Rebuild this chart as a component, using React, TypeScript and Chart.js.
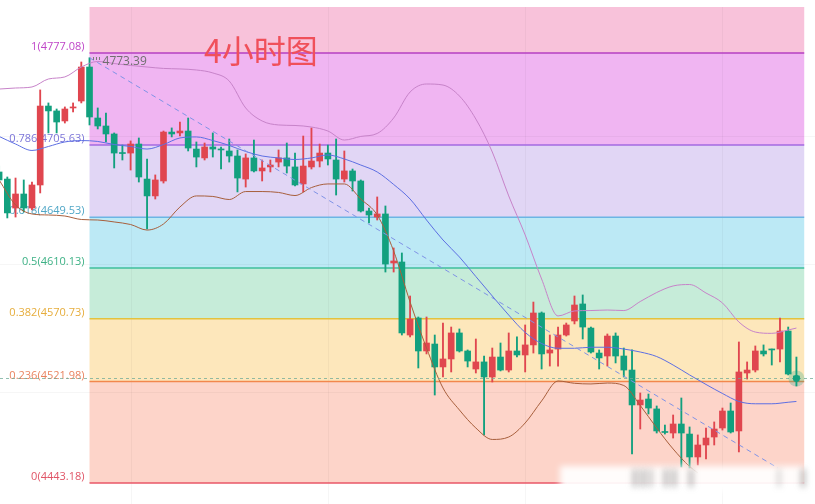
import { useEffect, useRef } from 'react';
import { Chart, registerables } from 'chart.js';

Chart.register(...registerables);

// ---- candle data (4h) ----
const opens = [4684.7, 4679.2, 4656.7, 4667.6, 4656.7, 4674.6, 4735.9, 4732.1, 4724.3, 4734.4, 4739.8, 4766.2, 4726.6, 4720.4, 4714.2, 4699.8, 4699.4, 4706.4, 4679.2, 4666.1, 4677.7, 4715.7, 4715.0, 4716.5, 4702.5, 4695.6, 4704.1, 4702.5, 4701.0, 4697.1, 4679.2, 4695.6, 4685.5, 4688.6, 4692.4, 4695.6, 4688.6, 4675.4, 4688.6, 4693.2, 4699.4, 4694.0, 4679.2, 4685.5, 4677.7, 4654.4, 4649.7, 4652.1, 4614.0, 4614.8, 4558.1, 4571.3, 4545.7, 4551.1, 4533.3, 4539.5, 4559.7, 4545.7, 4531.7, 4537.2, 4525.5, 4541.0, 4530.9, 4545.7, 4542.6, 4550.4, 4575.2, 4544.1, 4547.2, 4558.1, 4569.0, 4582.2, 4563.5, 4544.1, 4541.8, 4557.3, 4541.8, 4530.9, 4503.8, 4508.4, 4500.7, 4483.2, 4482.0, 4489.0, 4481.2, 4463.4, 4472.7, 4478.9, 4485.9, 4499.1, 4483.6, 4528.6, 4530.9, 4545.7, 4547.2, 4547.2, 4561.2, 4526.3];
const highs = [4689.3, 4680.8, 4680.0, 4678.5, 4676.9, 4748.4, 4738.3, 4733.6, 4735.2, 4738.3, 4770.1, 4773.39, 4734.4, 4730.5, 4715.0, 4705.6, 4708.8, 4711.1, 4694.8, 4682.4, 4716.5, 4718.9, 4723.5, 4726.6, 4708.0, 4707.2, 4715.0, 4704.1, 4710.3, 4701.8, 4698.7, 4709.5, 4694.0, 4694.0, 4701.8, 4707.2, 4699.4, 4712.6, 4718.9, 4706.4, 4705.6, 4710.3, 4701.0, 4687.0, 4678.5, 4656.7, 4665.3, 4658.3, 4625.7, 4621.8, 4588.4, 4572.1, 4572.1, 4558.1, 4567.4, 4564.3, 4562.8, 4546.5, 4555.0, 4541.8, 4548.0, 4551.9, 4559.7, 4556.6, 4565.9, 4583.7, 4576.0, 4558.1, 4564.3, 4567.4, 4588.4, 4589.2, 4564.3, 4546.5, 4558.9, 4559.7, 4548.0, 4546.5, 4513.1, 4512.3, 4503.0, 4488.2, 4496.0, 4509.2, 4486.7, 4480.5, 4485.9, 4490.6, 4501.4, 4505.3, 4552.7, 4537.2, 4549.6, 4550.4, 4547.2, 4571.3, 4564.3, 4541.0];
const lows = [4673.8, 4649.0, 4649.7, 4653.6, 4655.2, 4668.4, 4715.0, 4715.0, 4722.7, 4731.3, 4738.3, 4721.2, 4718.1, 4708.0, 4687.8, 4694.0, 4686.2, 4676.9, 4640.4, 4663.7, 4676.1, 4711.9, 4712.6, 4701.0, 4688.6, 4694.0, 4696.3, 4687.0, 4692.4, 4669.2, 4673.0, 4684.7, 4677.7, 4684.7, 4688.6, 4683.9, 4673.8, 4669.2, 4687.0, 4688.6, 4690.1, 4666.8, 4676.9, 4669.9, 4653.6, 4645.1, 4647.4, 4607.0, 4607.0, 4558.1, 4556.6, 4532.5, 4543.4, 4511.5, 4525.5, 4529.4, 4544.9, 4533.3, 4528.6, 4480.5, 4521.6, 4530.2, 4529.4, 4541.0, 4529.4, 4544.1, 4531.7, 4534.0, 4534.0, 4557.3, 4566.7, 4555.0, 4544.1, 4531.7, 4534.0, 4536.4, 4525.5, 4465.7, 4485.1, 4496.8, 4482.0, 4481.2, 4478.1, 4455.6, 4454.8, 4457.2, 4461.8, 4472.7, 4484.3, 4482.0, 4467.3, 4523.9, 4529.4, 4541.8, 4534.8, 4537.2, 4527.1, 4518.5];
const closes = [4678.5, 4652.9, 4667.6, 4656.7, 4674.6, 4735.9, 4732.1, 4723.5, 4733.6, 4735.2, 4766.2, 4727.4, 4720.4, 4714.2, 4699.4, 4699.0, 4706.4, 4680.8, 4666.1, 4678.5, 4715.7, 4714.2, 4716.5, 4703.3, 4696.3, 4704.1, 4702.5, 4701.8, 4697.1, 4680.0, 4695.6, 4685.5, 4687.8, 4690.1, 4695.6, 4689.3, 4674.6, 4689.3, 4693.2, 4699.4, 4694.8, 4679.2, 4685.5, 4677.7, 4654.4, 4651.3, 4652.1, 4613.2, 4615.6, 4559.7, 4570.5, 4545.7, 4551.9, 4533.3, 4539.5, 4559.7, 4545.7, 4537.9, 4537.2, 4525.5, 4541.0, 4530.9, 4545.7, 4542.6, 4550.4, 4575.2, 4543.4, 4546.5, 4558.1, 4565.9, 4581.4, 4564.3, 4544.9, 4540.3, 4557.3, 4541.8, 4530.9, 4503.8, 4507.6, 4501.4, 4483.6, 4482.4, 4489.0, 4482.0, 4463.4, 4472.7, 4478.1, 4485.1, 4499.1, 4482.8, 4529.4, 4530.9, 4545.7, 4543.4, 4546.5, 4561.2, 4527.8, 4524.7];

// ---- Bollinger bands ----
const bbIdx = [0, 2, 4, 6, 8, 10, 12, 14, 16, 18, 20, 22, 24, 26, 28, 30, 32, 34, 36, 38, 40, 42, 44, 46, 48, 50, 52, 54, 56, 58, 60, 62, 64, 66, 68, 70, 72, 74, 76, 78, 80, 82, 84, 86, 88, 90, 92, 94, 96, 97];
const bbUpper = [4749.1, 4749.9, 4750.7, 4756.9, 4758.5, 4766.2, 4770.5, 4768.9, 4767.4, 4766.2, 4765.1, 4764.7, 4763.9, 4761.6, 4755.3, 4734.4, 4724.3, 4721.2, 4720.8, 4719.6, 4716.5, 4709.5, 4712.3, 4714.6, 4726.6, 4746.8, 4753.0, 4752.2, 4743.7, 4725.8, 4700.2, 4666.1, 4635.8, 4601.6, 4572.9, 4576.8, 4577.1, 4577.5, 4577.1, 4584.1, 4591.1, 4596.2, 4597.3, 4590.7, 4583.0, 4568.2, 4560.4, 4559.4, 4562.0, 4563.5];
const bbMiddle = [4712.3, 4706.4, 4701.4, 4704.5, 4708.0, 4709.1, 4708.4, 4706.0, 4704.5, 4702.5, 4706.0, 4711.1, 4711.9, 4709.1, 4705.3, 4700.6, 4697.1, 4695.6, 4694.4, 4695.6, 4697.9, 4694.8, 4690.1, 4684.7, 4675.0, 4663.7, 4647.4, 4631.9, 4618.7, 4603.5, 4588.4, 4573.6, 4560.1, 4551.5, 4547.8, 4547.8, 4548.6, 4548.6, 4547.2, 4544.9, 4541.4, 4534.8, 4527.1, 4519.7, 4512.7, 4506.5, 4504.7, 4504.7, 4505.9, 4506.5];
const bbLowerIdx = [0, 2, 4, 6, 8, 10, 12, 14, 16, 18, 20, 22, 24, 26, 28, 30, 32, 34, 36, 38, 40, 42, 44, 46, 48, 50, 52, 54, 56, 58, 60, 62, 64, 66, 68, 70, 72, 74, 76, 78, 80, 82, 84, 85];
const bbLower = [4678.5, 4659.1, 4652.1, 4651.3, 4650.5, 4647.8, 4647.4, 4645.9, 4643.9, 4639.6, 4644.3, 4657.5, 4666.1, 4665.7, 4663.3, 4669.5, 4669.5, 4668.8, 4666.4, 4672.6, 4675.4, 4675.4, 4663.7, 4651.3, 4623.3, 4583.7, 4548.0, 4517.0, 4499.9, 4485.9, 4477.0, 4478.9, 4489.8, 4506.9, 4522.4, 4520.6, 4520.1, 4520.8, 4518.9, 4503.4, 4485.9, 4469.6, 4456.0, 4451.0];

// ---- Fibonacci retracement ----
const fibRatios = [1, 0.786, 0.618, 0.5, 0.382, 0.236, 0];
const fibPrices = [4777.08, 4705.63, 4649.53, 4610.13, 4570.73, 4521.98, 4443.18];
const fibStartIdx = 11;
const fibEndIdx = 97.95;

// ---- trend line (dashed) ----
const trendIdx = [11, 94.75];
const trendPrices = [4773.39, 4454.8];

// ---- misc ----
const highLabel = '4773.39';
const title = '4小时图';
const gridIdx = [16, 40, 64, 88];
const gridPrices = [4712.6, 4613.2, 4513.8];

const UP = '#e0464f';
const DOWN = '#12a07e';
const bandColors = ['#f8c2da', '#f0b5f2', '#e1d6f5', '#bce9f5', '#c6ecd9', '#fde7bb', '#fdd4c9'];
const lineColors = ['#b63fc2', '#a36ae0', '#6cb5e4', '#3fbf9b', '#e3c23e', '#f2874d', '#e85767'];
const labelColors = ['#bf45c8', '#7b74d8', '#4fa6c6', '#3db185', '#e6ad3c', '#e9835f', '#e05466'];

const candleColors = opens.map((o, i) => (closes[i] >= o ? UP : DOWN));

const fibPlugin = {
  id: 'fibPlugin',
  beforeDatasetsDraw(chart: any) {
    const { ctx, chartArea, scales } = chart;
    const xs = scales.x;
    const ys = scales.y;
    const xL = xs.getPixelForValue(fibStartIdx);
    const xR = xs.getPixelForValue(fibEndIdx);
    ctx.save();
    // bands
    let prevY = chartArea.top;
    fibPrices.forEach((p, k) => {
      const yy = ys.getPixelForValue(p);
      ctx.fillStyle = bandColors[k];
      ctx.fillRect(xL, prevY, xR - xL, yy - prevY);
      prevY = yy;
    });
    // grid
    ctx.strokeStyle = 'rgba(0,0,0,0.035)';
    ctx.lineWidth = 1;
    gridIdx.forEach((g) => {
      const gx = Math.round(xs.getPixelForValue(g)) + 0.5;
      ctx.beginPath();
      ctx.moveTo(gx, chartArea.top);
      ctx.lineTo(gx, chartArea.bottom);
      ctx.stroke();
    });
    gridPrices.forEach((g) => {
      const gy = Math.round(ys.getPixelForValue(g)) + 0.5;
      ctx.beginPath();
      ctx.moveTo(chartArea.left, gy);
      ctx.lineTo(chartArea.right, gy);
      ctx.stroke();
    });
    // level lines
    fibPrices.forEach((p, k) => {
      const yy = ys.getPixelForValue(p);
      ctx.strokeStyle = lineColors[k];
      ctx.lineWidth = 1.5;
      ctx.beginPath();
      ctx.moveTo(xL, yy);
      ctx.lineTo(xR, yy);
      ctx.stroke();
    });
    // labels
    ctx.font = '11px "Open Sans", sans-serif';
    ctx.textAlign = 'right';
    ctx.textBaseline = 'bottom';
    fibPrices.forEach((p, k) => {
      const yy = ys.getPixelForValue(p);
      ctx.fillStyle = labelColors[k];
      ctx.fillText(`${fibRatios[k]}(${p.toFixed(2)})`, xL - 5, yy - 0.5);
    });
    // title
    ctx.font = '32px "Noto Sans CJK SC", sans-serif';
    ctx.textAlign = 'left';
    ctx.textBaseline = 'middle';
    ctx.fillStyle = '#f0505a';
    ctx.fillText(title, 204, 51);
    ctx.restore();
  },
  afterDatasetsDraw(chart: any) {
    const { ctx, chartArea, scales } = chart;
    const xs = scales.x;
    const ys = scales.y;
    ctx.save();
    // high label
    const hx = xs.getPixelForValue(trendIdx[0]);
    const hy = ys.getPixelForValue(trendPrices[0]);
    ctx.fillStyle = '#7a7a7a';
    [3, 6, 9].forEach((d) => ctx.fillRect(Math.round(hx) + d, Math.round(hy) - 1, 1, 3));
    ctx.font = '12px "Open Sans", sans-serif';
    ctx.textAlign = 'left';
    ctx.textBaseline = 'middle';
    ctx.fillStyle = '#6f6f6f';
    ctx.fillText(highLabel, hx + 13, hy + 3.5);

    // current price line
    const last = closes.length - 1;
    const py = Math.round(ys.getPixelForValue(closes[last])) + 0.5;
    ctx.strokeStyle = 'rgba(110,170,150,0.75)';
    ctx.setLineDash([3, 3]);
    ctx.lineWidth = 1;
    ctx.beginPath();
    ctx.moveTo(chartArea.left, py);
    ctx.lineTo(chartArea.right, py);
    ctx.stroke();
    ctx.setLineDash([]);

    // watermark blur (decorative)
    ctx.filter = 'blur(3px)';
    ctx.fillStyle = 'rgba(255,255,255,0.93)';
    ctx.fillRect(560, 466, 246, 26);
    ctx.fillStyle = 'rgba(100,100,100,0.5)';
    [[633, 4], [641, 4], [649, 3], [664, 4], [672, 4], [689, 4], [778, 2], [801, 4]].forEach(([bx, bw]) => {
      ctx.fillRect(bx, 469, bw, 18);
    });
    ctx.filter = 'none';

    // current price dot
    const px = xs.getPixelForValue(last);
    ctx.fillStyle = 'rgba(18,160,126,0.25)';
    ctx.beginPath();
    ctx.arc(px, py, 8, 0, Math.PI * 2);
    ctx.fill();
    ctx.fillStyle = DOWN;
    ctx.beginPath();
    ctx.arc(px, py, 3.5, 0, Math.PI * 2);
    ctx.fill();
    ctx.restore();
  },
};

export default function App() {
  const ref = useRef<HTMLCanvasElement>(null);
  useEffect(() => {
    const canvas = ref.current;
    if (!canvas) return;
    const lineDs = (label: string, idx: number[], vals: number[], color: string, order: number) => ({
      type: 'line' as const,
      label,
      data: idx.map((x, k) => ({ x, y: vals[k] })),
      borderColor: color,
      borderWidth: 1,
      pointRadius: 0,
      fill: false,
      cubicInterpolationMode: 'monotone' as const,
      order,
    });
    const chart = new Chart(canvas, {
      type: 'bar',
      data: {
        datasets: [
          {
            type: 'bar',
            label: 'wick',
            data: lows.map((l, i) => ({ x: i, y: [l, highs[i]] })) as any,
            backgroundColor: candleColors,
            barThickness: 1.2,
            grouped: false,
            borderWidth: 0,
            order: 4,
          } as any,
          {
            type: 'bar',
            label: 'body',
            data: opens.map((o, i) => ({ x: i, y: [o, closes[i]] })) as any,
            backgroundColor: candleColors,
            barThickness: 6,
            grouped: false,
            borderWidth: 0,
            minBarLength: 1,
            order: 3,
          } as any,
          lineDs('upper', bbIdx, bbUpper, '#c783c9', 2) as any,
          lineDs('middle', bbIdx, bbMiddle, '#5d6fe3', 2) as any,
          lineDs('lower', bbLowerIdx, bbLower, '#a85f3c', 2) as any,
          {
            type: 'line',
            label: 'trend',
            data: trendIdx.map((x, k) => ({ x, y: trendPrices[k] })),
            borderColor: '#8093e6',
            borderWidth: 1,
            borderDash: [5, 4],
            pointRadius: 0,
            fill: false,
            order: 1,
          } as any,
        ],
      },
      options: {
        responsive: false,
        devicePixelRatio: 1,
        animation: false,
        layout: { padding: { top: 7, left: 0, right: 0, bottom: 0 } },
        plugins: { legend: { display: false }, tooltip: { enabled: false } },
        scales: {
          x: { type: 'linear', min: 0.1095, max: 99.26, display: false, offset: false },
          y: { type: 'linear', min: 4426.88, max: 4812.8, display: false },
        },
      },
      plugins: [fibPlugin],
    });
    return () => chart.destroy();
  }, []);
  return (
    <div style={{ position: 'fixed', left: 0, top: 0, width: 815, height: 504, background: '#fff' }}>
      <canvas ref={ref} width={815} height={504} style={{ display: 'block', width: 815, height: 504 }} />
    </div>
  );
}
